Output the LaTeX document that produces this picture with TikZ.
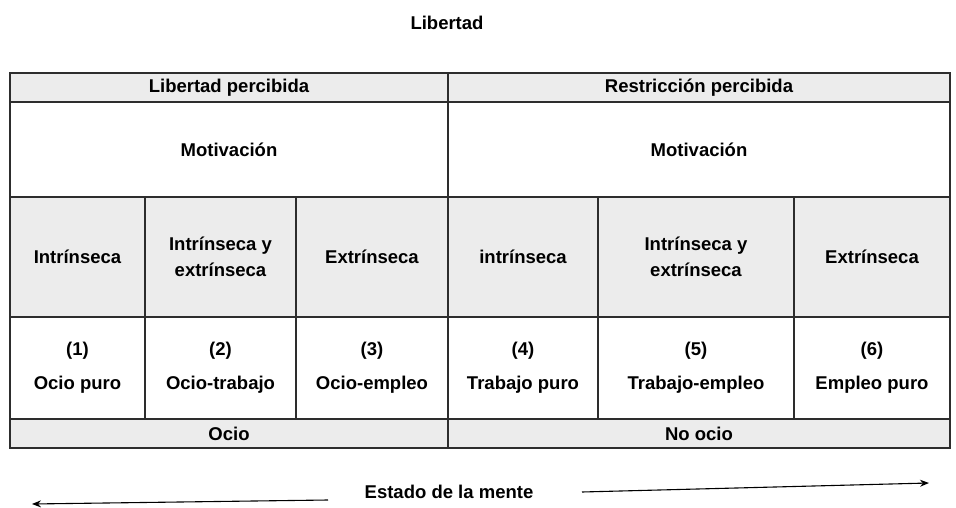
\documentclass[tikz,border=0pt]{standalone}
\usepackage{fontspec}
\setmainfont{Liberation Sans}
\usetikzlibrary{arrows.meta}
\definecolor{celda}{RGB}{236,236,236}
\definecolor{borde}{RGB}{45,45,45}

\begin{document}
\begin{tikzpicture}[x = 1pt, y = -1pt,
  texto/.style = {font = \bfseries\fontsize{18.5}{26}\selectfont, align = center},
  cell/.style = {texto, draw = borde, line width = 1.2pt, inner sep = 0pt},
  gris/.style = {cell, fill = celda},
  blanco/.style = {cell, fill = white},
  flecha/.style = {-{Stealth[length = 9pt, width = 7pt]}, line width = 1.1pt}]
 \useasboundingbox (0, 0) rectangle (956, 508);
 \node[texto] (titulo) at (447, 23) {Libertad};

 \node[gris, minimum width = 438pt, minimum height = 29pt] (libre) at (229, 87.5) {Libertad percibida};
 \node[gris, minimum width = 502pt, minimum height = 29pt] (restr) at (699, 87.5) {Restricción percibida};
 \node[blanco, minimum width = 438pt, minimum height = 95pt] (motiv1) at (229, 149.5) {Motivación};
 \node[blanco, minimum width = 502pt, minimum height = 95pt] (motiv2) at (699, 149.5) {Motivación};

 \node[gris, minimum width = 135pt, minimum height = 120pt] (tipo1) at (77.5, 257) {Intrínseca};
 \node[gris, minimum width = 151pt, minimum height = 120pt] (tipo2) at (220.5, 257) {Intrínseca y\\extrínseca};
 \node[gris, minimum width = 152pt, minimum height = 120pt] (tipo3) at (372, 257) {Extrínseca};
 \node[gris, minimum width = 150pt, minimum height = 120pt] (tipo4) at (523, 257) {intrínseca};
 \node[gris, minimum width = 196pt, minimum height = 120pt] (tipo5) at (696, 257) {Intrínseca y\\extrínseca};
 \node[gris, minimum width = 156pt, minimum height = 120pt] (tipo6) at (872, 257) {Extrínseca};

 \node[blanco, minimum width = 135pt, minimum height = 102pt] (caso1) at (77.5, 368) {(1)\\[8pt]Ocio puro};
 \node[blanco, minimum width = 151pt, minimum height = 102pt] (caso2) at (220.5, 368) {(2)\\[8pt]Ocio-trabajo};
 \node[blanco, minimum width = 152pt, minimum height = 102pt] (caso3) at (372, 368) {(3)\\[8pt]Ocio-empleo};
 \node[blanco, minimum width = 150pt, minimum height = 102pt] (caso4) at (523, 368) {(4)\\[8pt]Trabajo puro};
 \node[blanco, minimum width = 196pt, minimum height = 102pt] (caso5) at (696, 368) {(5)\\[8pt]Trabajo-empleo};
 \node[blanco, minimum width = 156pt, minimum height = 102pt] (caso6) at (872, 368) {(6)\\[8pt]Empleo puro};

 \node[gris, minimum width = 438pt, minimum height = 29pt] (ocio) at (229, 433.5) {Ocio};
 \node[gris, minimum width = 502pt, minimum height = 29pt] (noocio) at (699, 433.5) {No ocio};

 \node[texto] (estado) at (449, 492) {Estado de la mente};
 \coordinate (izqA) at (328, 500);
 \coordinate (izqB) at (32, 504);
 \coordinate (derA) at (582, 492);
 \coordinate (derB) at (929, 483);
 \draw[flecha] (izqA) -- (izqB);
 \draw[flecha] (derA) -- (derB);
\end{tikzpicture}
\end{document}
